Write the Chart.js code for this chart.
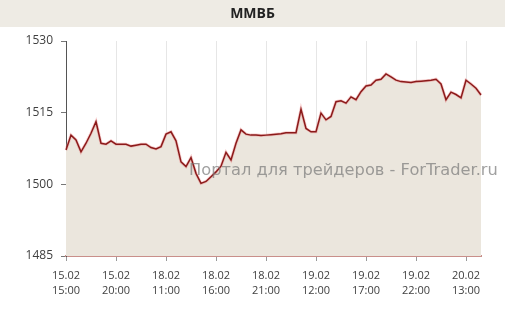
<!DOCTYPE html>
<html>
<head>
<meta charset="utf-8">
<script src="https://cdn.jsdelivr.net/npm/chart.js@4.4.0/dist/chart.umd.min.js"></script>
<style>
  html, body { margin: 0; padding: 0; background: #fff; }
  #wrap { width: 505px; height: 318px; position: relative; }
</style>
</head>
<body>
<div id="wrap"><canvas id="chart" width="505" height="318"></canvas></div>
<script>
const chartTitle = "ММВБ";
const watermark = "Портал для трейдеров - ForTrader.ru";

// one label every 10 half-hour points
const tickLabels = [
    ["15.02", "15:00"], ["15.02", "20:00"], ["18.02", "11:00"],
    ["18.02", "16:00"], ["18.02", "21:00"], ["19.02", "12:00"],
    ["19.02", "17:00"], ["19.02", "22:00"], ["20.02", "13:00"]
];

const prices = [
    1507.2, 1510.3, 1509.3, 1506.8, 1508.6, 1510.7, 1513.1, 1508.6, 1508.4, 1509.1,
    1508.4, 1508.4, 1508.4, 1508.0, 1508.2, 1508.4, 1508.4, 1507.7, 1507.4, 1507.9,
    1510.5, 1511.0, 1509.1, 1504.7, 1503.7, 1505.6, 1502.3, 1500.2, 1500.6, 1501.6,
    1502.6, 1503.8, 1506.7, 1505.1, 1508.6, 1511.4, 1510.5, 1510.3, 1510.3, 1510.2,
    1510.3, 1510.4, 1510.5, 1510.6, 1510.8, 1510.8, 1510.8, 1515.7, 1511.7, 1511.0,
    1511.0, 1514.9, 1513.5, 1514.2, 1517.3, 1517.5, 1517.0, 1518.3, 1517.7, 1519.4,
    1520.6, 1520.8, 1521.8, 1522.0, 1523.1, 1522.5, 1521.8, 1521.5, 1521.4, 1521.3,
    1521.5, 1521.6, 1521.7, 1521.8, 1522.0, 1521.0, 1517.7, 1519.3, 1518.8, 1518.1,
    1521.8, 1521.0, 1520.1, 1518.7
];

const labels = prices.map((p, i) => (i % 10 === 0 ? tickLabels[i / 10] : ""));

const frame = {
    id: "frame",
    beforeDraw(chart) {
        const ctx = chart.ctx;
        ctx.save();
        ctx.fillStyle = "#eeebe4";
        ctx.fillRect(0, 0, chart.width, 27);
        ctx.fillStyle = "#222";
        ctx.font = "bold 14px 'Open Sans'";
        ctx.textAlign = "center";
        ctx.textBaseline = "middle";
        ctx.fillText(chartTitle, chart.width / 2, 14);
        ctx.restore();
    },
    afterDatasetsDraw(chart) {
        const ctx = chart.ctx;
        ctx.save();
        ctx.font = "14px 'DejaVu Sans'";
        const w = ctx.measureText(watermark).width;
        const size = 14 * 309 / w;
        ctx.font = size + "px 'DejaVu Sans'";
        ctx.fillStyle = "rgba(120,120,120,0.7)";
        ctx.textBaseline = "alphabetic";
        ctx.fillText(watermark, 189, 175);
        ctx.restore();
    }
};

new Chart(document.getElementById("chart"), {
    type: "line",
    data: {
        labels: labels,
        datasets: [
            {
                data: prices,
                borderColor: "#8b1a1a",
                borderWidth: 1.5,
                pointRadius: 0,
                tension: 0,
                fill: false,
            },
            {
                data: prices,
                borderColor: "rgba(235,140,140,0.45)",
                borderWidth: 3,
                backgroundColor: "#ebe6dd",
                pointRadius: 0,
                tension: 0,
                fill: "start",
            },
        ],
    },
    options: {
        responsive: false,
        animation: false,
        layout: { padding: { top: 41, right: 24, left: 0, bottom: 0 } },
        plugins: { legend: { display: false }, tooltip: { enabled: false } },
        scales: {
            x: {
                offset: false,
                afterFit: (s) => { s.height = 62; },
                border: { color: "#c98f8a", width: 2 },
                grid: {
                    color: (c) => (c.index % 10 === 0 && c.index > 0 ? "#e6e6e6" : "transparent"),
                    tickColor: (c) => (c.index % 10 === 0 ? "#999" : "transparent"),
                    tickLength: 5,
                },
                ticks: {
                    autoSkip: false,
                    maxRotation: 0,
                    padding: 8,
                    color: "#404040",
                    font: { family: "'Open Sans'", size: 11, lineHeight: 1.3 },
                    callback: (v, i) => labels[i],
                },
            },
            y: {
                min: 1485,
                max: 1530,
                afterFit: (s) => { s.width = 66; },
                border: { color: "#555", width: 1 },
                grid: { drawOnChartArea: false, tickColor: "#777", tickLength: 5 },
                ticks: {
                    stepSize: 15,
                    padding: 8,
                    color: "#404040",
                    font: { family: "'Open Sans'", size: 12 },
                    callback: (v) => String(v),
                },
            },
        },
    },
    plugins: [frame],
});
</script>
</body>
</html>
